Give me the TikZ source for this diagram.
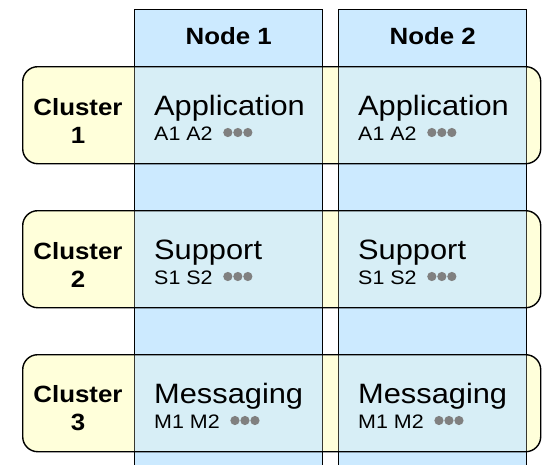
\documentclass[tikz,border=0pt]{standalone}
\usepackage{fontspec}
\setmainfont{Liberation Sans}[FakeStretch=1.1]
\usepackage{xcolor}
\usetikzlibrary{positioning}

\definecolor{colblue}{HTML}{CCEAFF}
\definecolor{clusteryellow}{HTML}{FFFFDA}
\definecolor{dotgray}{HTML}{808080}

\begin{document}
\begin{tikzpicture}[
    x=1pt, y=-1pt,
    column/.style={draw, line width=1.4pt, fill=colblue, anchor=north west, inner sep=0pt,
                   minimum width=188pt, minimum height=470pt},
    clusterbase/.style={rounded corners=15pt, fill=clusteryellow, anchor=north west, inner sep=0pt,
                        minimum width=518pt, minimum height=97pt},
    cluster/.style={clusterbase, draw, line width=1.4pt, fill opacity=0.22},
    head/.style={font=\bfseries\fontsize{23.5}{26}\selectfont, anchor=base},
    ctitle/.style={font=\bfseries\fontsize{23.5}{28}\selectfont, align=center},
    comp/.style={font=\fontsize{28}{30}\selectfont, anchor=base west, inner sep=0pt},
    items/.style={font=\fontsize{19.5}{22}\selectfont, anchor=base west, inner sep=0pt}
]
\useasboundingbox (0,0) rectangle (543,464);

% yellow under the columns
\node[clusterbase] (cb1) at (22,66) {};
\node[clusterbase] (cb2) at (22,210) {};
\node[clusterbase] (cb3) at (22,354) {};

% node columns
\node[column] (col1) at (134,9) {};
\node[column] (col2) at (338,9) {};
\node[head] (hd1) at ([yshift=-35pt]col1.north) {Node 1};
\node[head] (hd2) at ([yshift=-35pt]col2.north) {Node 2};

% clusters
\node[cluster] (cl1) at (cb1.north west) {};
\node[cluster] (cl2) at (cb2.north west) {};
\node[cluster] (cl3) at (cb3.north west) {};
\node[ctitle] (ct1) at (78,120.5) {Cluster\\1};
\node[ctitle] (ct2) at (78,264.5) {Cluster\\2};
\node[ctitle] (ct3) at (78,408.5) {Cluster\\3};

% components
\node[comp] (app1) at (154,115) {Application};
\node[items] (appl1) at (154,140) {A1 A2};
\node[comp] (app2) at (358,115) {Application};
\node[items] (appl2) at (358,140) {A1 A2};
\node[comp] (sup1) at (154,259) {Support};
\node[items] (supl1) at (154,284) {S1 S2};
\node[comp] (sup2) at (358,259) {Support};
\node[items] (supl2) at (358,284) {S1 S2};
\node[comp] (msg1) at (154,403) {Messaging};
\node[items] (msgl1) at (154,428) {M1 M2};
\node[comp] (msg2) at (358,403) {Messaging};
\node[items] (msgl2) at (358,428) {M1 M2};

% more dots
\foreach \n in {appl1,appl2,supl1,supl2,msgl1,msgl2}
  \foreach \d in {0,1,2}
    \fill[dotgray] ([xshift=15pt+\d*10pt, yshift=7.5pt]\n.base east) circle (4.6pt);
\end{tikzpicture}
\end{document}
